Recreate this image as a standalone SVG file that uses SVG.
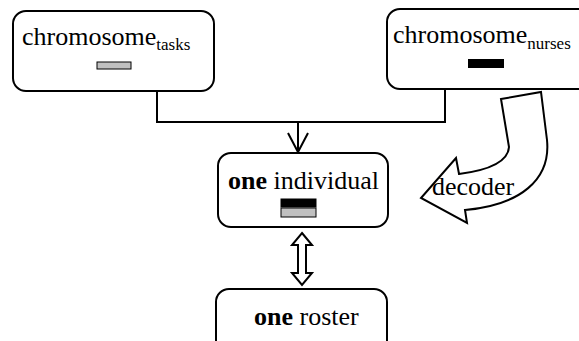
<svg xmlns="http://www.w3.org/2000/svg" width="579" height="341" viewBox="0 0 579 341">
<style>
.box{fill:#fff;stroke:#000;stroke-width:2}
.t{font-family:"Liberation Serif","Times New Roman",serif;font-size:26px;fill:#000}
.sub{font-family:"Liberation Serif","Times New Roman",serif;font-size:17px;fill:#000}
.ln{fill:none;stroke:#000;stroke-width:2}
.b{font-weight:bold}
</style>
<rect width="579" height="341" fill="#fff"/>
<g id="connectors">
<polyline class="ln" points="157,91 157,122 445,122 445,89"/>
<line class="ln" x1="298" y1="122" x2="298" y2="151"/>
<polyline class="ln" points="288,133 298,152 308,133"/>
<polygon class="ln" points="302,233 312,245 306,245 306,273 312,273 302,285 292,273 298,273 298,245 292,245" stroke-width="1.5"/>
<path class="ln" d="M501,99 L541,92 L547,140 C551,180 520,205 465,210 L467,223 L421,198 L456,158 L459,174 C490,170 508,162 509,147 Z"/>
</g>
<g id="chromosome-tasks">
<rect class="box" x="13" y="11" width="201" height="80" rx="13"/>
<text class="t" x="22" y="45">chromosome<tspan class="sub" dy="5">tasks</tspan></text>
<rect x="97" y="62" width="34" height="7" fill="#c0c0c0" stroke="#000" stroke-width="1"/>
</g>
<g id="chromosome-nurses">
<rect class="box" x="387" y="9" width="220" height="80" rx="13"/>
<text class="t" x="393" y="43">chromosome<tspan class="sub" dy="6">nurses</tspan></text>
<rect x="468" y="59" width="36" height="9" fill="#000"/>
</g>
<g id="individual">
<rect class="box" x="218" y="153" width="170" height="74" rx="13"/>
<text class="t" x="228" y="189"><tspan class="b">one</tspan> individual</text>
<rect x="281" y="199" width="35" height="8" fill="#000" stroke="#000" stroke-width="1"/>
<rect x="281" y="208" width="35" height="9" fill="#c0c0c0" stroke="#000" stroke-width="1"/>
</g>
<g id="roster">
<rect class="box" x="216" y="289" width="171" height="80" rx="13"/>
<text class="t" x="254" y="325"><tspan class="b">one</tspan> roster</text>
</g>
<g id="decoder-label">
<text class="t" x="432" y="195">decoder</text>
</g>
</svg>
